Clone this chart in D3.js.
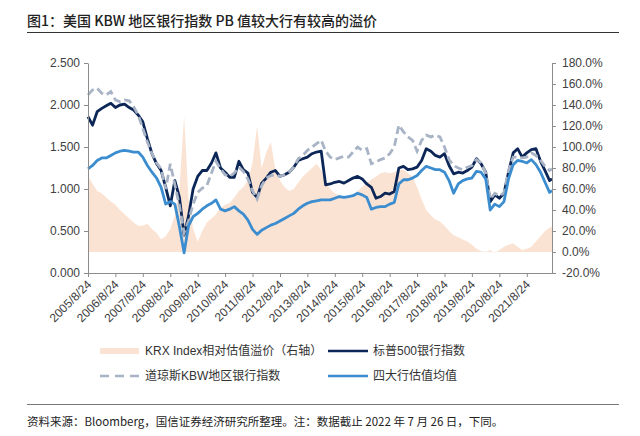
<!DOCTYPE html>
<html>
<head>
<meta charset="utf-8">
<script src="https://cdn.jsdelivr.net/npm/d3@7"></script>
<style>
  body { margin: 0; background: #fff; }
  svg text { font-family: "Liberation Sans", Arial, "Noto Sans CJK SC", sans-serif; }
  .cjk { font-family: "Noto Sans CJK SC", sans-serif; }
</style>
</head>
<body>
<div class="main"></div>
<script>
////Chart data (roughly every two months)
const dates = [
  '2005-08-24','2005-10-24','2005-12-24','2006-02-24','2006-04-24','2006-06-24','2006-08-24','2006-10-24','2006-12-24',
  '2007-02-24','2007-04-24','2007-06-24','2007-08-24','2007-10-24','2007-12-24',
  '2008-02-24','2008-04-24','2008-06-24','2008-08-24','2008-10-24','2008-12-24',
  '2009-02-24','2009-04-24','2009-06-24','2009-08-24','2009-10-24','2009-12-24',
  '2010-02-24','2010-04-24','2010-06-24','2010-08-24','2010-10-24','2010-12-24',
  '2011-02-24','2011-04-24','2011-06-24','2011-08-24','2011-10-24','2011-12-24',
  '2012-02-24','2012-04-24','2012-06-24','2012-08-24','2012-10-24','2012-12-24',
  '2013-02-24','2013-04-24','2013-06-24','2013-08-24','2013-10-24','2013-12-24',
  '2014-02-24','2014-04-24','2014-06-24','2014-08-24','2014-10-24','2014-12-24',
  '2015-02-24','2015-04-24','2015-06-24','2015-08-24','2015-10-24','2015-12-24',
  '2016-02-24','2016-04-24','2016-06-24','2016-08-24','2016-10-24','2016-12-24',
  '2017-02-24','2017-04-24','2017-06-24','2017-08-24','2017-10-24','2017-12-24',
  '2018-02-24','2018-04-24','2018-06-24','2018-08-24','2018-10-24','2018-12-24',
  '2019-02-24','2019-04-24','2019-06-24','2019-08-24','2019-10-24','2019-12-24',
  '2020-02-24','2020-04-24','2020-06-24','2020-08-24','2020-10-24','2020-12-24',
  '2021-02-24','2021-04-24','2021-06-24','2021-08-24','2021-10-24','2021-12-24',
  '2022-02-24','2022-04-24','2022-06-24','2022-07-26'
];

// KRX Index 相对估值溢价 (%), right axis
const krxPremium = [
  72,65,58,56,52,48,45,40,36,
  32,28,25,25,27,22,
  18,12,15,22,35,60,
  130,50,22,10,20,28,
  32,36,42,45,47,52,
  58,62,68,85,120,80,
  95,105,78,68,62,58,
  60,66,72,76,80,84,
  78,66,60,56,54,53,
  53,54,58,62,66,69,
  72,75,76,75,76,78,
  78,75,72,62,50,40,
  35,31,29,25,20,16,
  14,12,10,7,3,1,
  0,2,-1,2,5,7,
  8,5,2,3,5,10,
  15,20,23,24
];

// 标普500银行指数 PB
const sp500Banks = [
  1.86,1.76,1.92,1.96,1.99,2.02,1.97,2.00,2.01,
  1.97,1.94,1.88,1.80,1.60,1.42,
  1.30,1.22,1.02,0.80,1.10,0.90,
  0.45,0.68,1.00,1.15,1.22,1.22,
  1.31,1.43,1.25,1.20,1.14,1.14,
  1.33,1.23,1.19,0.96,0.90,1.07,
  1.13,1.20,1.22,1.15,1.17,1.20,
  1.26,1.34,1.36,1.38,1.42,1.44,
  1.45,1.05,1.06,1.08,1.09,1.07,
  1.10,1.13,1.15,1.12,1.06,1.02,
  0.89,0.91,0.95,0.94,0.97,1.25,
  1.27,1.23,1.24,1.26,1.34,1.48,
  1.45,1.40,1.38,1.42,1.28,1.18,
  1.20,1.19,1.22,1.26,1.36,1.30,
  1.20,0.85,0.93,0.89,0.95,1.20,
  1.43,1.48,1.38,1.43,1.47,1.48,
  1.33,1.22,1.10,1.12
];

// 道琼斯KBW地区银行指数 PB
const kbwRegional = [
  2.12,2.18,2.20,2.14,2.12,2.16,2.06,2.04,2.06,
  2.05,1.98,1.88,1.72,1.56,1.42,
  1.31,1.24,1.00,1.30,1.05,0.80,
  0.48,0.62,0.82,0.96,1.01,1.04,
  1.19,1.33,1.24,1.17,1.15,1.19,
  1.26,1.21,1.12,0.98,0.88,1.04,
  1.13,1.16,1.17,1.15,1.17,1.20,
  1.26,1.36,1.40,1.46,1.50,1.54,
  1.58,1.45,1.38,1.35,1.37,1.39,
  1.38,1.44,1.50,1.46,1.48,1.30,
  1.32,1.35,1.37,1.42,1.50,1.76,
  1.68,1.62,1.58,1.45,1.58,1.64,
  1.62,1.64,1.62,1.50,1.35,1.28,
  1.25,1.23,1.26,1.28,1.35,1.31,
  1.19,0.88,0.95,0.92,0.95,1.22,
  1.38,1.38,1.37,1.38,1.43,1.40,
  1.34,1.27,1.22,1.24
];

// 四大行估值均值 PB
const bigFourAvg = [
  1.24,1.28,1.34,1.37,1.37,1.40,1.43,1.45,1.46,
  1.45,1.44,1.44,1.38,1.28,1.20,
  1.13,1.02,0.82,0.85,0.82,0.55,
  0.24,0.56,0.67,0.71,0.76,0.80,
  0.83,0.87,0.76,0.74,0.76,0.79,
  0.74,0.70,0.63,0.52,0.46,0.51,
  0.54,0.57,0.59,0.62,0.65,0.68,
  0.71,0.76,0.80,0.83,0.85,0.86,
  0.87,0.87,0.87,0.89,0.91,0.90,
  0.91,0.92,0.95,0.93,0.90,0.76,
  0.78,0.79,0.79,0.82,0.84,1.06,
  1.11,1.11,1.13,1.16,1.22,1.27,
  1.25,1.23,1.23,1.20,1.10,0.95,
  1.06,1.10,1.12,1.13,1.21,1.20,
  1.12,0.75,0.82,0.79,0.85,1.12,
  1.29,1.34,1.33,1.31,1.35,1.29,
  1.20,1.08,0.96,0.98
];

const xTickLabels = ['2005/8/24','2006/8/24','2007/8/24','2008/8/24','2009/8/24','2010/8/24','2011/8/24','2012/8/24',
  '2013/8/24','2014/8/24','2015/8/24','2016/8/24','2017/8/24','2018/8/24','2019/8/24','2020/8/24','2021/8/24'];
const leftTicks = [0, 0.5, 1.0, 1.5, 2.0, 2.5];
const rightTicks = [-20, 0, 20, 40, 60, 80, 100, 120, 140, 160, 180];
const seriesNames = ['KRX Index相对估值溢价（右轴）', '标普500银行指数', '道琼斯KBW地区银行指数', '四大行估值均值'];
const titleText = '图1：美国 KBW 地区银行指数 PB 值较大行有较高的溢价';
const sourceText = '资料来源：Bloomberg，国信证券经济研究所整理。注：数据截止 2022 年 7 月 26 日，下同。';

////Layout
const width = 640;
const height = 436;
const plot = { left: 88, right: 552, top: 63, bottom: 273 };
const colors = { area: '#fbe3d3', navy: '#0c2757', gray: '#a8b4c5', blue: '#3b8dd0', axis: '#8c8c8c', text: '#404040' };

const svg = d3.select('.main').append('svg')
  .attr('width', width)
  .attr('height', height);

const parseDay = d3.timeParse('%Y-%m-%d');
const parseTick = d3.timeParse('%Y/%m/%d');
const points = dates.map((d, i) => ({
  date: parseDay(d),
  krx: krxPremium[i],
  sp: sp500Banks[i],
  kbw: kbwRegional[i],
  big: bigFourAvg[i]
}));

const xScale = d3.scaleTime()
  .domain(d3.extent(points, d => d.date))
  .range([plot.left, plot.right]);
const yLeft = d3.scaleLinear().domain([0, 2.5]).range([plot.bottom, plot.top]);
const yRight = d3.scaleLinear().domain([-20, 180]).range([plot.bottom, plot.top]);

// title + rules
svg.append('text')
  .attr('class', 'cjk')
  .attr('x', 27).attr('y', 26)
  .attr('font-size', 14).attr('font-weight', 500)
  .attr('fill', '#222')
  .text(titleText);
svg.append('line').attr('x1', 27).attr('x2', 619).attr('y1', 32.5).attr('y2', 32.5)
  .attr('stroke', '#333').attr('stroke-width', 1.2);
svg.append('line').attr('x1', 27).attr('x2', 619).attr('y1', 404.5).attr('y2', 404.5)
  .attr('stroke', '#777').attr('stroke-width', 1);
svg.append('text')
  .attr('class', 'cjk')
  .attr('x', 27).attr('y', 426)
  .attr('font-size', 11.5)
  .attr('fill', '#222')
  .text(sourceText);

// premium area (right axis)
svg.append('path')
  .datum(points)
  .attr('fill', colors.area)
  .attr('d', d3.area()
    .x(d => xScale(d.date))
    .y0(yRight(0))
    .y1(d => yRight(d.krx)));

// lines (left axis)
const line = key => d3.line().x(d => xScale(d.date)).y(d => yLeft(d[key]));

svg.append('path').datum(points)
  .attr('fill', 'none').attr('stroke', colors.navy).attr('stroke-width', 2.8)
  .attr('stroke-linejoin', 'round')
  .attr('d', line('sp'));

svg.append('path').datum(points)
  .attr('fill', 'none').attr('stroke', colors.gray).attr('stroke-width', 2.8)
  .attr('stroke-dasharray', '8,4')
  .attr('d', line('kbw'));

svg.append('path').datum(points)
  .attr('fill', 'none').attr('stroke', colors.blue).attr('stroke-width', 2.8)
  .attr('stroke-linejoin', 'round')
  .attr('d', line('big'));

// axes
const styleAxis = g => {
  g.select('.domain').attr('stroke', colors.axis);
  g.selectAll('.tick line').attr('stroke', colors.axis);
  g.selectAll('.tick text').attr('fill', colors.text).attr('font-size', 12)
    .attr('font-family', '"Liberation Sans", Arial, sans-serif');
};

svg.append('g')
  .attr('transform', `translate(${plot.left},0)`)
  .call(d3.axisLeft(yLeft).tickValues(leftTicks).tickFormat(d3.format('.3f')).tickSize(4).tickSizeOuter(0).tickPadding(4))
  .call(styleAxis);

svg.append('g')
  .attr('transform', `translate(${plot.right},0)`)
  .call(d3.axisRight(yRight).tickValues(rightTicks).tickFormat(d => d.toFixed(1) + '%').tickSize(4).tickSizeOuter(0).tickPadding(6))
  .call(styleAxis);

const xAxis = svg.append('g')
  .attr('transform', `translate(0,${plot.bottom})`)
  .call(d3.axisBottom(xScale).tickValues(xTickLabels.map(parseTick)).tickFormat(d3.timeFormat('%Y/%-m/%-d')).tickSize(4).tickSizeOuter(0))
  .call(styleAxis);
xAxis.select('.domain').attr('d', `M${plot.left},0.5H${plot.right}`);
xAxis.selectAll('.tick text')
  .attr('text-anchor', 'end')
  .attr('x', -6).attr('y', 7).attr('dy', '0.35em')
  .attr('transform', 'rotate(-45)');

// legend
const legend = svg.append('g').attr('font-size', 12).attr('fill', '#333');
const legendItems = [
  { name: seriesNames[0], x: 100, y: 351, kind: 'area', color: colors.area },
  { name: seriesNames[1], x: 328, y: 351, kind: 'line', color: colors.navy },
  { name: seriesNames[2], x: 100, y: 376, kind: 'dash', color: colors.gray },
  { name: seriesNames[3], x: 328, y: 376, kind: 'line', color: colors.blue }
];
legendItems.forEach(item => {
  const g = legend.append('g').attr('transform', `translate(${item.x},${item.y})`);
  if (item.kind === 'area') {
    g.append('rect').attr('x', 0).attr('y', -3).attr('width', 39).attr('height', 6).attr('fill', item.color);
  } else {
    g.append('line').attr('x1', 0).attr('x2', 40).attr('y1', 0).attr('y2', 0)
      .attr('stroke', item.color).attr('stroke-width', 2.6)
      .attr('stroke-dasharray', item.kind === 'dash' ? '9,6' : null);
  }
  g.append('text').attr('x', 45).attr('y', 0).attr('dy', '0.36em').attr('fill', '#333')
    .text(item.name);
});
</script>
</body>
</html>
